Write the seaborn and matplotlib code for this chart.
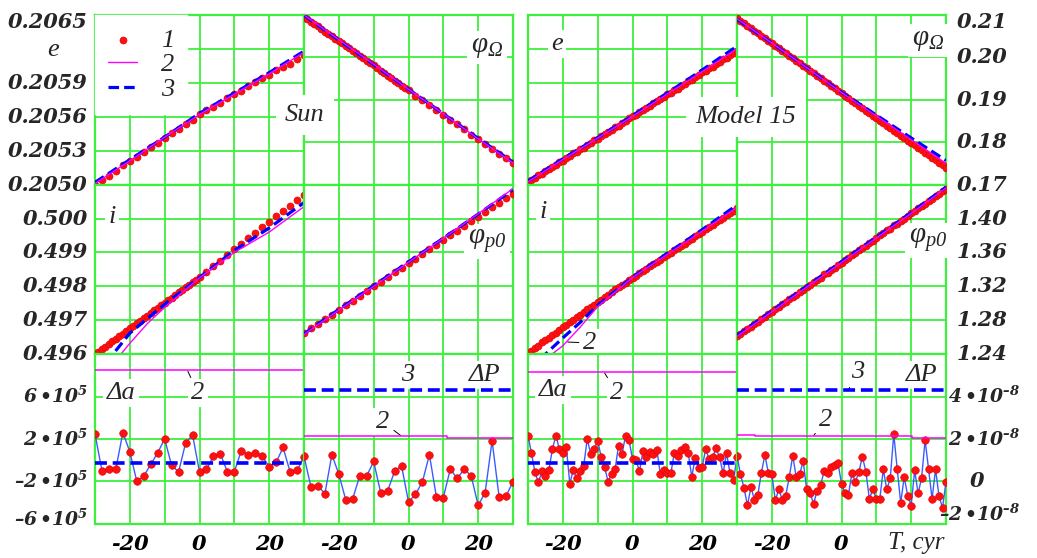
import matplotlib
matplotlib.use("Agg")
import matplotlib.pyplot as plt
import matplotlib.transforms as mtransforms
import seaborn as sns

sns.set_theme(style="white")
plt.rcParams["font.family"] = ["Liberation Serif", "DejaVu Serif"]
# math text: digits/powers in bold italic, \mathsf used for the plain italic phi labels
plt.rcParams["mathtext.fontset"] = "custom"
plt.rcParams["mathtext.rm"] = "DejaVu Serif:italic:bold"
plt.rcParams["mathtext.it"] = "DejaVu Serif:italic:bold"
plt.rcParams["mathtext.bf"] = "DejaVu Serif:italic:bold"
plt.rcParams["mathtext.sf"] = "Liberation Serif:italic"
plt.rcParams["mathtext.default"] = "it"

# colours
GREEN = "#3df03d"
RED = "#ff1010"
RED_EDGE = "#e00000"
MAGENTA = "#ff00ff"
BLUE = "#0000ff"
LINK = "#3a5cff"
DASH = (0, (3.3, 1.6))

# ---- time samples (cyr) ----
T_SUN = list(range(-30, 31, 2))
T_SUN_DENSE = list(range(-30, 0)) + list(range(0, 31, 2))
T_M15 = list(range(-30, 31))
T_FIT = [-30, -20, -10, 0, 10, 20, 30]
T_FIT_I = [-30, -25, -20, -15, -10, 0, 10, 20, 30]
T_EDGE = [-30, 30]

# ---- Sun: e ----
E_SUN = [0.20500, 0.20504, 0.20508, 0.20512, 0.20517, 0.20521, 0.20524, 0.20529, 0.20533, 0.20537,
         0.20541, 0.20546, 0.20549, 0.20554, 0.20557, 0.20562, 0.20566, 0.20569, 0.20572, 0.20577,
         0.20580, 0.20583, 0.20587, 0.20591, 0.20594, 0.20597, 0.20601, 0.20604, 0.20607, 0.20611,
         0.20615]
E_SUN_FIT2 = [0.20501, 0.20521, 0.20542, 0.20562, 0.20580, 0.20598, 0.20617]
E_SUN_FIT3 = [0.20502, 0.20522, 0.20542, 0.20563, 0.20581, 0.20599, 0.20618]

# ---- Sun: phi_Omega (unlabelled scale) ----
PO_SUN = [3.96, 3.90, 3.84, 3.79, 3.73, 3.67, 3.61, 3.56, 3.50, 3.44,
          3.38, 3.33, 3.27, 3.21, 3.15, 3.10, 3.04, 2.98, 2.92, 2.87,
          2.81, 2.75, 2.69, 2.63, 2.57, 2.51, 2.45, 2.39, 2.33, 2.28,
          2.22, 2.10, 1.99, 1.88, 1.77, 1.64, 1.53, 1.42, 1.31, 1.18,
          1.08, 0.95, 0.84, 0.73, 0.62, 0.50]
PO_SUN_FIT2 = [4.00, 3.42, 2.84, 2.25, 1.67, 1.08, 0.51]
PO_SUN_FIT3 = [3.99, 3.41, 2.83, 2.25, 1.67, 1.09, 0.53]

# ---- Sun: i ----
I_SUN = [0.49600, 0.49607, 0.49615, 0.49622, 0.49630, 0.49638, 0.49645, 0.49653, 0.49660, 0.49668,
         0.49676, 0.49683, 0.49691, 0.49698, 0.49706, 0.49714, 0.49721, 0.49729, 0.49736, 0.49744,
         0.49752, 0.49759, 0.49767, 0.49774, 0.49782, 0.49790, 0.49797, 0.49805, 0.49812, 0.49820,
         0.49828, 0.49843, 0.49860, 0.49876, 0.49893, 0.49910, 0.49926, 0.49942, 0.49958, 0.49975,
         0.49990, 0.50006, 0.50022, 0.50038, 0.50054, 0.50070]
I_SUN_FIT2 = [0.49505, 0.49570, 0.49632, 0.49690, 0.49738, 0.49825, 0.49900, 0.49960, 0.50035]
I_SUN_FIT3 = [0.49540, 0.49598, 0.49662, 0.49705, 0.49747, 0.49826, 0.49906, 0.49972, 0.50047]

# ---- Sun: phi_p0 (unlabelled scale) ----
PP_SUN = [0.62, 0.76, 0.90, 1.03, 1.17, 1.31, 1.45, 1.58, 1.72, 1.86,
          2.00, 2.13, 2.27, 2.41, 2.55, 2.69, 2.82, 2.96, 3.10, 3.23,
          3.37, 3.51, 3.64, 3.78, 3.92, 4.05, 4.19, 4.33, 4.46, 4.60,
          4.73]
PP_SUN_FIT2 = [0.58, 1.30, 2.00, 2.71, 3.42, 4.14, 4.88]
PP_SUN_FIT3 = [0.60, 1.32, 2.02, 2.72, 3.42, 4.13, 4.85]

# ---- Sun: residuals ----
DA_SUN = [2.5, -1.0, -0.8, -0.8, 2.6, 0.8, -2.0, -1.5, -0.4, 0.7,
          2.0, -0.5, -1.1, 1.6, 2.4, -1.1, -0.85, 0.35, 0.6, -1.1,
          -1.1, 0.9, 0.5, 0.65, 0.35, -0.6, -0.2, 1.2, -1.1, -0.95,
          0.3]                      # x 1e5
DA_SUN_FIT2 = [8.5, 8.5]
DA_SUN_FIT3 = [-0.22, -0.22]
DP_SUN = [1.18, -0.26, -0.21, -0.58, 1.26, 0.34, -0.88, -0.81, 0.26, 0.26,
          0.94, -0.53, -0.45, 0.47, 0.74, -0.97, -0.61, -0.02, 1.26, -0.72,
          -0.76, 0.58, 0.14, 0.58, 0.26, -1.13, -0.53, 1.92, -0.72, -0.69,
          -0.02]                    # x 1e-8
DP_SUN_FIT2_T = [-30, 11, 11, 30]
DP_SUN_FIT2 = [2.12, 2.12, 2.07, 2.07]
DP_SUN_FIT3 = [4.29, 4.29]

# ---- Model 15: e (unlabelled scale) ----
E_M15 = [0.07, 0.14, 0.18, 0.27, 0.31, 0.40, 0.45, 0.53, 0.57, 0.66,
         0.71, 0.79, 0.83, 0.92, 0.96, 1.05, 1.09, 1.18, 1.22, 1.31,
         1.35, 1.43, 1.48, 1.56, 1.61, 1.69, 1.74, 1.82, 1.87, 1.95,
         2.01, 2.06, 2.14, 2.19, 2.27, 2.32, 2.40, 2.45, 2.53, 2.58,
         2.66, 2.70, 2.79, 2.83, 2.92, 2.96, 3.05, 3.09, 3.18, 3.22,
         3.31, 3.35, 3.43, 3.48, 3.56, 3.61, 3.69, 3.74, 3.82, 3.87,
         3.94]
E_M15_FIT2 = [0.08, 0.74, 1.37, 2.01, 2.67, 3.33, 4.01]
E_M15_FIT3 = [0.10, 0.76, 1.38, 2.03, 2.70, 3.38, 4.08]

# ---- Model 15: phi_Omega ----
PO_M15 = [0.20920, 0.20858, 0.20806, 0.20741, 0.20688, 0.20624, 0.20570, 0.20506, 0.20453, 0.20389,
          0.20336, 0.20271, 0.20219, 0.20154, 0.20101, 0.20037, 0.19984, 0.19919, 0.19866, 0.19802,
          0.19748, 0.19684, 0.19632, 0.19567, 0.19514, 0.19450, 0.19396, 0.19332, 0.19279, 0.19214,
          0.19160, 0.19097, 0.19045, 0.18980, 0.18927, 0.18862, 0.18810, 0.18745, 0.18692, 0.18628,
          0.18574, 0.18510, 0.18457, 0.18393, 0.18340, 0.18275, 0.18222, 0.18158, 0.18105, 0.18040,
          0.17988, 0.17923, 0.17870, 0.17806, 0.17752, 0.17688, 0.17636, 0.17571, 0.17518, 0.17453,
          0.17400]
PO_M15_FIT2 = [0.2091, 0.2034, 0.1976, 0.1917, 0.1862, 0.1806, 0.1750]
PO_M15_FIT3 = [0.2090, 0.2034, 0.1976, 0.1918, 0.1864, 0.1810, 0.1757]

# ---- Model 15: i (unlabelled scale) ----
I_M15 = [0.02, 0.10, 0.17, 0.25, 0.35, 0.41, 0.48, 0.56, 0.62, 0.71, 0.79,
         0.87, 0.94, 1.02, 1.11, 1.17, 1.24, 1.32, 1.39, 1.45, 1.54,
         1.61, 1.68, 1.75, 1.82, 1.92, 1.97, 2.04, 2.11, 2.18, 2.25,
         2.32, 2.38, 2.45, 2.50, 2.59, 2.65, 2.72, 2.79, 2.87, 2.92,
         2.99, 3.06, 3.13, 3.20, 3.25, 3.34, 3.40, 3.47, 3.54, 3.61,
         3.68, 3.75, 3.82, 3.91, 3.96, 4.03, 4.09, 4.16, 4.23, 4.30]
I_M15_FIT2 = [-0.60, -0.15, 0.25, 0.80, 1.40, 2.26, 2.94, 3.63, 4.33]
I_M15_FIT3 = [-0.45, 0.00, 0.48, 0.94, 1.44, 2.27, 2.97, 3.67, 4.40]

# ---- Model 15: phi_p0 ----
PP_M15 = [1.261, 1.264, 1.267, 1.270, 1.272, 1.276, 1.278, 1.281, 1.284, 1.287,
          1.290, 1.293, 1.296, 1.299, 1.301, 1.305, 1.307, 1.310, 1.313, 1.316,
          1.319, 1.322, 1.325, 1.328, 1.330, 1.334, 1.336, 1.339, 1.342, 1.345,
          1.348, 1.351, 1.354, 1.357, 1.359, 1.363, 1.365, 1.368, 1.371, 1.374,
          1.377, 1.380, 1.383, 1.386, 1.388, 1.392, 1.394, 1.397, 1.400, 1.403,
          1.406, 1.409, 1.412, 1.415, 1.417, 1.421, 1.423, 1.426, 1.429, 1.432,
          1.435]
PP_M15_FIT2 = [1.261, 1.290, 1.319, 1.348, 1.377, 1.406, 1.436]
PP_M15_FIT3 = [1.262, 1.291, 1.320, 1.349, 1.378, 1.407, 1.437]

# ---- Model 15: residuals ----
DA_M15 = [2.32, 0.68, -1.15, -2.10, -1.00, -1.53, -0.93, 1.05, 2.32, 1.05,
          0.68, 1.21, -2.20, -0.93, -1.72, -1.00, -0.52, 2.00, 0.58, 1.05,
          1.84, 0.33, -0.68, -2.01, -1.31, -0.84, 1.37, 0.58, 2.32, 1.91,
          0.11, 0.01, -1.06, 0.83, 0.27, 0.74, 0.58, 0.96, -1.31, -0.93,
          -1.25, -1.25, 0.68, 0.42, 0.96, 1.21, 0.68, -1.56, 0.17, -0.78,
          -0.68, 1.05, 0.11, 0.27, 1.12, 0.27, -1.25, 0.68, -1.25, -1.85,
          0.27]                     # x 1e5
DA_M15_FIT2 = [8.33, 8.33]
DA_M15_FIT3 = [-0.27, -0.27]
DP_M15 = [1.21, 0.33, -0.30, -1.13, -0.27, -0.86, -0.62, 0.41, 1.25, 0.41,
          0.33, -0.89, -0.38, -0.86, -0.67, 0.21, 1.21, 0.21, 0.33, 0.97,
          -0.38, -0.57, -1.05, -0.43, -0.19, 0.49, 0.41, 0.68, 0.76, 0.86,
          -0.11, -0.57, -0.62, 0.41, -0.03, 0.46, 1.17, 0.46, -0.83, -0.38,
          -0.83, -0.83, 0.57, -0.38, 0.14, 2.24, 0.57, -1.02, 0.21, -0.67,
          -1.14, 0.52, -0.57, 0.17, 1.95, 0.57, -0.83, 0.57, -0.70, -1.25,
          -0.02]                    # x 1e-8
DP_M15_FIT2_T = [-30, -24.7, -24.7, 20.3, 20.3, 30]
DP_M15_FIT2 = [2.17, 2.17, 2.12, 2.12, 2.07, 2.07]
DP_M15_FIT3 = [4.30, 4.30]

# ---- grids and tick labels ----
XGRID = [-30, -20, -10, 0, 10, 20, 30]
XTICK_LABELS = ["", "-20", "", "0", "", "20", ""]
XTICK_LABELS_LAST = ["", "-20", "", "0", "", "", ""]
E_SUN_GRID = [0.2050, 0.2053, 0.2056, 0.2059, 0.2062, 0.2065]
E_SUN_LABELS = ["0.2050", "0.2053", "0.2056", "0.2059", "", "0.2065"]
PO_SUN_GRID = [0, 1, 2, 3, 4]
E_M15_GRID = [0, 1, 2, 3, 4, 5]
PO_M15_GRID = [0.17, 0.18, 0.19, 0.20, 0.21]
PO_M15_LABELS = ["0.17", "0.18", "0.19", "0.20", "0.21"]
I_SUN_GRID = [0.496, 0.497, 0.498, 0.499, 0.500, 0.501]
I_SUN_LABELS = ["0.496", "0.497", "0.498", "0.499", "0.500", ""]
PP_SUN_GRID = [0, 1, 2, 3, 4, 5]
I_M15_GRID = [0, 1, 2, 3, 4, 5]
PP_M15_GRID = [1.24, 1.28, 1.32, 1.36, 1.40, 1.44]
PP_M15_LABELS = ["1.24", "1.28", "1.32", "1.36", "1.40", ""]
DA_GRID = [-6, -2, 2, 6, 10]
DA_LABELS = [r"$–6\,•10^{5}$", r"$–2\,•10^{5}$", r"$2\,•10^{5}$", r"$6\,•10^{5}$", ""]
DP_GRID = [-2, 0, 2, 4, 6]
DP_LABELS = [r"$–2\,•10^{–8}$", "0", r"$2\,•10^{–8}$", r"$4\,•10^{–8}$", ""]

TICK_FONT = dict(family="DejaVu Serif", weight="bold", style="italic", size=15)
POW_SIZE = 13.5
NAME_FONT = dict(family="Liberation Serif", style="italic", size=19)
WHITE_BOX = dict(boxstyle="square,pad=0.12", fc="white", ec="none")

# ---- layout (pixels) ----
W, H = 1037, 558
COL_X = [95, 304, 528, 737]
ROW_TOP = [15, 184.6, 354.2]
PW, PH = 209, 169.6

fig = plt.figure(figsize=(W / 100, H / 100), dpi=100)
fig.patch.set_facecolor("white")


def make_panel(col, row, grid):
    ax = fig.add_axes([COL_X[col] / W, 1 - (ROW_TOP[row] + PH) / H, PW / W, PH / H])
    ax.set_facecolor("white")
    ax.set_xlim(XGRID[0], XGRID[-1])
    ax.set_ylim(grid[0], grid[-1])
    ax.set_xticks(XGRID)
    ax.set_yticks(grid)
    ax.set_axisbelow(True)
    ax.grid(True, color=GREEN, linewidth=1.3)
    ax.tick_params(length=0, labelbottom=False, labelleft=False)
    for sp in ax.spines.values():
        sp.set_color(GREEN)
        sp.set_linewidth(1.6)
    return ax


def orbit_panel(ax, t, dots, t_fit, fit2, fit3, with_labels=False):
    sns.scatterplot(x=t, y=dots, ax=ax, color=RED, s=26, edgecolor=RED_EDGE,
                    linewidth=0.4, zorder=4, legend=False,
                    label="1" if with_labels else None)
    sns.lineplot(x=t_fit, y=fit3, ax=ax, color=BLUE, linewidth=2.3, linestyle=DASH,
                 estimator=None, sort=False, zorder=5, legend=False,
                 label="3" if with_labels else None)
    sns.lineplot(x=t_fit, y=fit2, ax=ax, color=MAGENTA, linewidth=1.0,
                 estimator=None, sort=False, zorder=6, legend=False,
                 label="2" if with_labels else None)


def residual_panel(ax, t, dots, t2, fit2, fit3):
    sns.lineplot(x=t, y=dots, ax=ax, color=LINK, linewidth=1.0,
                 estimator=None, sort=False, zorder=3.6, legend=False)
    sns.scatterplot(x=t, y=dots, ax=ax, color=RED, s=30, edgecolor=RED_EDGE,
                    linewidth=0.4, zorder=4, legend=False)
    sns.lineplot(x=T_EDGE, y=fit3, ax=ax, color=BLUE, linewidth=2.6, linestyle=DASH,
                 estimator=None, sort=False, zorder=5, legend=False)
    sns.lineplot(x=t2, y=fit2, ax=ax, color=MAGENTA, linewidth=1.1,
                 estimator=None, sort=False, zorder=6, legend=False)


def side_labels(ax, values, labels, side):
    base = mtransforms.blended_transform_factory(ax.transAxes, ax.transData)
    lo, hi = ax.get_ylim()
    for v, lab in zip(values, labels):
        if not lab:
            continue
        font = dict(TICK_FONT)
        power = "10" in lab
        if power:
            font["size"] = POW_SIZE
        if side == "left":
            x, dx, ha = 0, -7, "right"
        elif side == "right":
            x, dx, ha = 1, 11, "left"
        else:  # right side of the residual panel
            x, dx, ha = (1, 74, "right") if power else (1, 31, "center")
        dy = 0
        if v == hi:
            dy = -7
        elif v == lo and power:
            dy = 10 if side == "rightc" else 5
        tr = mtransforms.offset_copy(base, fig=fig, x=dx, y=dy, units="dots")
        ax.text(x, v, lab, transform=tr, ha=ha, va="center", clip_on=False, **font)


def name_at(ax, s, px, py, box=True, **kw):
    font = dict(NAME_FONT)
    font.update(kw)
    ax.annotate(s, xy=(px, H - py), xycoords="figure pixels", ha="center", va="center",
                bbox=WHITE_BOX if box else None, zorder=3.5, annotation_clip=False, **font)


def tag(ax, s, target, px, py):
    ax.annotate(s, xy=target, xycoords="data", xytext=(px, H - py),
                textcoords="figure pixels", ha="center", va="center",
                bbox=WHITE_BOX, zorder=3.5, annotation_clip=False,
                arrowprops=dict(arrowstyle="-", color="black", lw=0.7,
                                shrinkA=1, shrinkB=1),
                **NAME_FONT)


PHI_OMEGA = r"$\mathsf{φ_{Ω}}$"
PHI_P0 = r"$\mathsf{φ_{p0}}$"

# ---- top row ----
ax = make_panel(0, 0, E_SUN_GRID)
orbit_panel(ax, T_SUN, E_SUN, T_FIT, E_SUN_FIT2, E_SUN_FIT3, with_labels=True)
side_labels(ax, E_SUN_GRID, E_SUN_LABELS, "left")
handles, labels = ax.get_legend_handles_labels()
order = sorted(range(len(labels)), key=lambda k: labels[k])
leg = ax.legend([handles[k] for k in order], [labels[k] for k in order],
                loc="upper left", bbox_to_anchor=(0, 1), borderaxespad=0,
                frameon=True, fancybox=False, facecolor="white", edgecolor="white",
                framealpha=1, handlelength=1.1, handletextpad=0.9,
                labelspacing=0.05, borderpad=0.5, scatterpoints=1,
                prop=dict(family="Liberation Serif", style="italic", size=19))
leg.set_zorder(10)

ax = make_panel(1, 0, PO_SUN_GRID)
orbit_panel(ax, T_SUN_DENSE, PO_SUN, T_FIT, PO_SUN_FIT2, PO_SUN_FIT3)
name_at(ax, PHI_OMEGA, 487, 47, size=21)

ax = make_panel(2, 0, E_M15_GRID)
orbit_panel(ax, T_M15, E_M15, T_FIT, E_M15_FIT2, E_M15_FIT3)
name_at(ax, "e", 557, 44)

ax = make_panel(3, 0, PO_M15_GRID)
orbit_panel(ax, T_M15, PO_M15, T_FIT, PO_M15_FIT2, PO_M15_FIT3)
side_labels(ax, PO_M15_GRID, PO_M15_LABELS, "right")
name_at(ax, PHI_OMEGA, 928, 40, size=21)

# ---- middle row ----
ax = make_panel(0, 1, I_SUN_GRID)
orbit_panel(ax, T_SUN_DENSE, I_SUN, T_FIT_I, I_SUN_FIT2, I_SUN_FIT3)
side_labels(ax, I_SUN_GRID, I_SUN_LABELS, "left")
name_at(ax, "i", 112, 217)

ax = make_panel(1, 1, PP_SUN_GRID)
orbit_panel(ax, T_SUN, PP_SUN, T_FIT, PP_SUN_FIT2, PP_SUN_FIT3)
name_at(ax, PHI_P0, 487, 241, size=21)

ax = make_panel(2, 1, I_M15_GRID)
orbit_panel(ax, T_M15, I_M15, T_FIT_I, I_M15_FIT2, I_M15_FIT3)
name_at(ax, "i", 543, 212)
tag(ax, "2", (-19, 0.36), 590, 343)

ax = make_panel(3, 1, PP_M15_GRID)
orbit_panel(ax, T_M15, PP_M15, T_FIT, PP_M15_FIT2, PP_M15_FIT3)
side_labels(ax, PP_M15_GRID, PP_M15_LABELS, "right")
name_at(ax, PHI_P0, 928, 240, size=21)

# ---- bottom row ----
bottom = []
ax = make_panel(0, 2, DA_GRID)
residual_panel(ax, T_SUN, DA_SUN, T_EDGE, DA_SUN_FIT2, DA_SUN_FIT3)
side_labels(ax, DA_GRID, DA_LABELS, "left")
name_at(ax, "Δa", 121, 393)
tag(ax, "2", (-3.5, DA_SUN_FIT2[0]), 198, 393)
bottom.append(ax)

ax = make_panel(1, 2, DP_GRID)
residual_panel(ax, T_SUN, DP_SUN, DP_SUN_FIT2_T, DP_SUN_FIT2, DP_SUN_FIT3)
name_at(ax, "ΔP", 485, 375)
tag(ax, "3", (-3.3, DP_SUN_FIT3[0]), 408, 375)
tag(ax, "2", (-1.9, DP_SUN_FIT2[0]), 383, 422)
bottom.append(ax)

ax = make_panel(2, 2, DA_GRID)
residual_panel(ax, T_M15, DA_M15, T_EDGE, DA_M15_FIT2, DA_M15_FIT3)
name_at(ax, "Δa", 553, 390)
tag(ax, "2", (-8.2, DA_M15_FIT2[0]), 617, 393)
bottom.append(ax)

ax = make_panel(3, 2, DP_GRID)
residual_panel(ax, T_M15, DP_M15, DP_M15_FIT2_T, DP_M15_FIT2, DP_M15_FIT3)
side_labels(ax, DP_GRID, DP_LABELS, "rightc")
name_at(ax, "ΔP", 922, 375)
tag(ax, "3", (1.9, DP_M15_FIT3[0]), 858, 372)
tag(ax, "2", (-8.2, DP_M15_FIT2[2]), 826, 420)
bottom.append(ax)

for k, ax in enumerate(bottom):
    ax.set_xticklabels(XTICK_LABELS_LAST if k == 3 else XTICK_LABELS, **TICK_FONT)
    ax.tick_params(labelbottom=True, pad=7, colors="black")

# ---- figure-level labels ----
fig.text(53 / W, 1 - 50 / H, "e", ha="center", va="center", **NAME_FONT)
fig.text(305 / W, 1 - 115 / H, "Sun", ha="center", va="center",
         bbox=dict(boxstyle="square,pad=0.35", fc="white", ec="none"), **NAME_FONT)
fig.text(746 / W, 1 - 117 / H, "Model 15", ha="center", va="center",
         bbox=dict(boxstyle="square,pad=0.35", fc="white", ec="none"), **NAME_FONT)
fig.text(916 / W, 1 - 543 / H, "T, cyr", ha="center", va="center",
         family="Liberation Serif", style="italic", size=18)

fig.savefig("out.png", dpi=100)
